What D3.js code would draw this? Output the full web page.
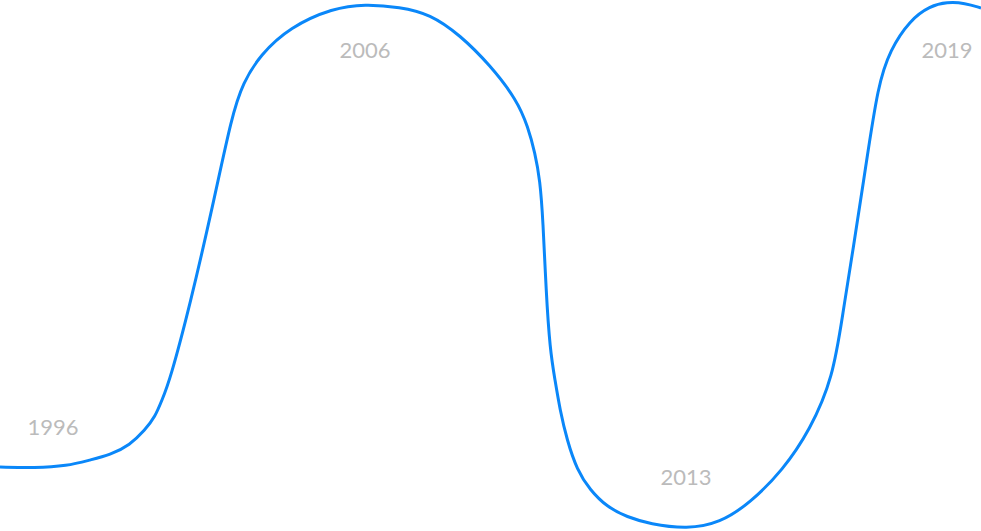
<!DOCTYPE html>
<html><head><meta charset="utf-8">
<script src="https://cdn.jsdelivr.net/npm/d3@7"></script>
<style>html,body{margin:0;padding:0;background:#fff;overflow:hidden}</style>
</head><body><svg id="c" width="981" height="531"></svg>
<script>
const xs = [0,35,67,90,110,130,145,155,162,170,190,213,232,243,260,290,333,365,400,430,460,490,517,528,535,540,543,546,550,555,560,567,577,590,607,627,650,687,720,750,783,810,833,843,853,866,878,890,910,930,947,965,981];
const values = [64,63,65,71,76,86,101,114,131,151,226,326,416,448,476,504,523,527,524,517,496,466,431,404,378,351,311,241,181,151,121,91,61,41,24,14,7,2,8,28,61,101,153,219,281,366,446,481,511,525,529,528,523];
const years = ["1996","2006","2013","2019"];
const labelX = [53,365,686,947];
const labelV = [96,473,46,473];

const W = 981, H = 531;
const x = d3.scaleLinear().domain([0,981]).range([0,W]);
const y = d3.scaleLinear().domain([0,531]).range([H,0]);
const svg = d3.select("#c");
const data = xs.map((d,i)=>({x:d,v:values[i]}));
svg.append("path").datum(data)
  .attr("fill","none").attr("stroke","#0a87f9").attr("stroke-width",3)
  .attr("d", d3.line().x(d=>x(d.x)).y(d=>y(d.v)).curve(d3.curveBasis));
svg.selectAll("text.lab").data(years).join("text").attr("class","lab")
  .attr("x",(d,i)=>x(labelX[i])).attr("y",(d,i)=>y(labelV[i]))
  .attr("text-anchor","middle").attr("font-family","Lato, sans-serif")
  .attr("font-size",22).attr("fill","#bbbbbb").text(d=>d);
</script></body></html>
